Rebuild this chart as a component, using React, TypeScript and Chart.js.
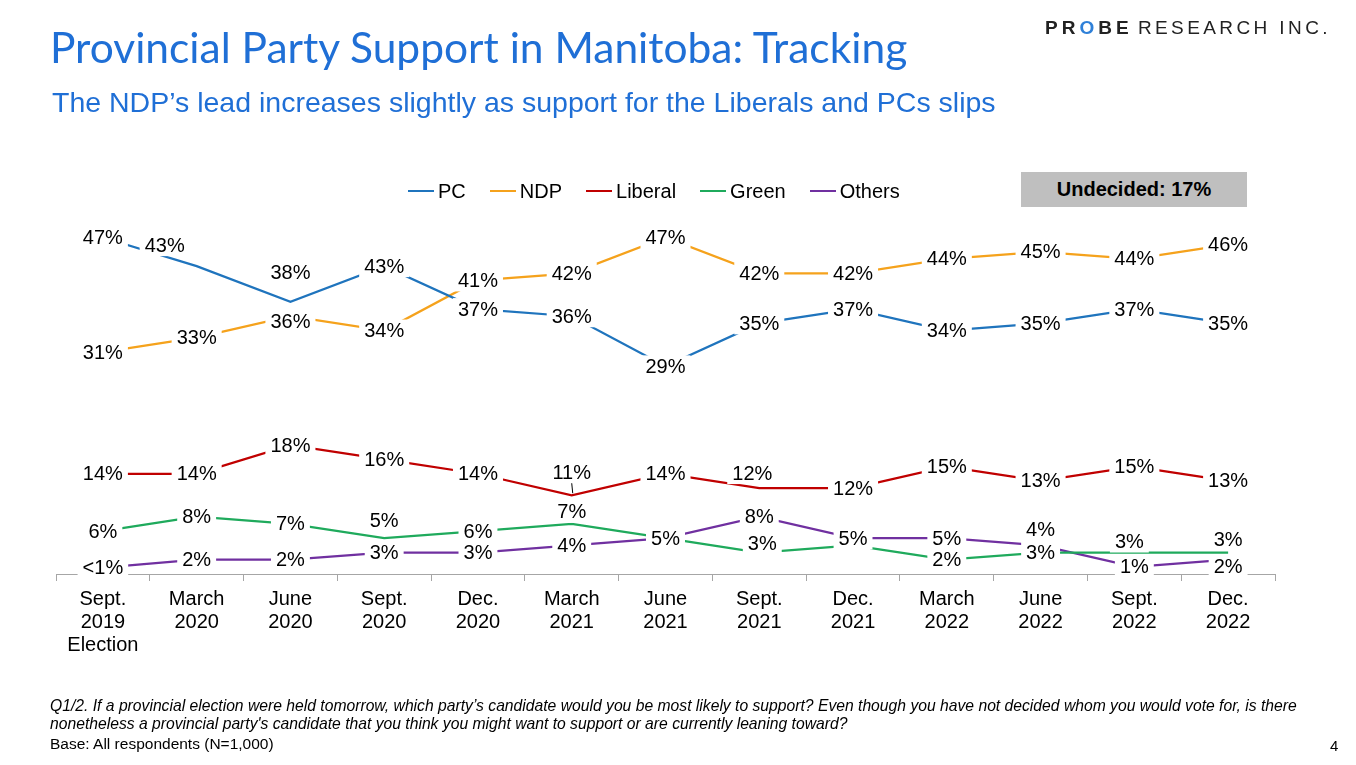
import React, { useEffect, useRef } from "react";
import { Chart, registerables } from "chart.js";

Chart.register(...registerables);

// ---------- data ----------
const categories: string[][] = [
  ["Sept.", "2019", "Election"],
  ["March", "2020"],
  ["June", "2020"],
  ["Sept.", "2020"],
  ["Dec.", "2020"],
  ["March", "2021"],
  ["June", "2021"],
  ["Sept.", "2021"],
  ["Dec.", "2021"],
  ["March", "2022"],
  ["June", "2022"],
  ["Sept.", "2022"],
  ["Dec.", "2022"],
];
const pcValues = [47, 43, 38, 43, 37, 36, 29, 35, 37, 34, 35, 37, 35];
const ndpValues = [31, 33, 36, 34, 41, 42, 47, 42, 42, 44, 45, 44, 46];
const liberalValues = [14, 14, 18, 16, 14, 11, 14, 12, 12, 15, 13, 15, 13];
const greenValues = [6, 8, 7, 5, 6, 7, 5, 3, 4, 2, 3, 3, 3];
const othersValues = [0.9, 2, 2, 3, 3, 4, 5, 8, 5, 5, 4, 1, 2];

const seriesNames = ["PC", "NDP", "Liberal", "Green", "Others"];
const seriesColors = ["#1F74BD", "#F5A21C", "#C00000", "#1FAA5C", "#7030A0"];

// label placement tweaks (annotation style, not data)
const labelNudges: Record<string, [number, number] | "hide"> = {
  "0-1": [-32, -21],
  "0-2": [0, -29],
  "1-2": [0, 5],
  "2-5": [0, -23],
  "2-7": [-7, -15],
  "3-3": [0, -18],
  "3-5": [0, -12],
  "3-7": [3, -9],
  "3-8": "hide",
  "3-11": [-5, -11],
  "3-12": [0, -13],
  "4-10": [0, -16],
  "4-12": [0, 7],
};
const leaderLines = ["2-5"];

const FONT = "'Liberation Sans', Arial, Helvetica, sans-serif";

const pointLabelPlugin = {
  id: "pointLabels",
  afterDatasetsDraw(chart: any) {
    const ctx = chart.ctx as CanvasRenderingContext2D;
    ctx.save();
    ctx.font = `20px ${FONT}`;
    ctx.textAlign = "center";
    ctx.textBaseline = "middle";
    chart.data.datasets.forEach((ds: any, di: number) => {
      const meta = chart.getDatasetMeta(di);
      meta.data.forEach((pt: any, i: number) => {
        const key = `${di}-${i}`;
        const n = labelNudges[key];
        if (n === "hide") return;
        const [dx, dy] = n || [0, 0];
        const x = pt.x + dx;
        const y = pt.y + dy;
        const v = ds.data[i] as number;
        const text = v < 1 ? "<1%" : `${v}%`;
        const w = ctx.measureText(text).width;
        ctx.fillStyle = "#ffffff";
        ctx.fillRect(x - w / 2 - 5, y - 11, w + 10, 22);
        if (leaderLines.includes(key)) {
          ctx.strokeStyle = "#000";
          ctx.lineWidth = 1;
          ctx.beginPath();
          ctx.moveTo(x, y + 11);
          ctx.lineTo(pt.x + 1, pt.y - 2);
          ctx.stroke();
        }
        ctx.fillStyle = "#000000";
        ctx.fillText(text, x, y + 1);
      });
    });
    ctx.restore();
  },
};

function TrackingChart() {
  const ref = useRef<HTMLCanvasElement | null>(null);
  useEffect(() => {
    if (!ref.current) return;
    const all = [pcValues, ndpValues, liberalValues, greenValues, othersValues];
    const chart = new Chart(ref.current, {
      type: "line",
      data: {
        labels: categories,
        datasets: all.map((vals, i) => ({
          label: seriesNames[i],
          data: vals,
          borderColor: seriesColors[i],
          backgroundColor: seriesColors[i],
          borderWidth: 2.25,
          pointRadius: 0,
          tension: 0,
          fill: false,
        })),
      },
      options: {
        responsive: false,
        animation: false,
        devicePixelRatio: 1,
        layout: { padding: { left: 56, right: 81, top: 216, bottom: 101 } },
        plugins: {
          legend: { display: false },
          title: { display: false },
          tooltip: { enabled: false },
        },
        scales: {
          x: {
            offset: true,
            grid: {
              offset: true,
              drawOnChartArea: false,
              drawTicks: true,
              tickLength: 7,
              color: "#A6A6A6",
            },
            border: { display: true, color: "#A6A6A6", width: 1 },
            ticks: {
              color: "#000000",
              font: { family: FONT, size: 20, lineHeight: 1.15 },
              padding: 7,
              maxRotation: 0,
              autoSkip: false,
            },
          },
          y: {
            display: false,
            min: 0,
            max: 50,
          },
        },
      },
      plugins: [pointLabelPlugin],
    });
    return () => chart.destroy();
  }, []);
  return (
    <canvas
      ref={ref}
      width={1356}
      height={765}
      style={{ position: "absolute", left: 0, top: 0, width: 1356, height: 765 }}
    />
  );
}

export default function App() {
  return (
    <div
      style={{
        position: "absolute",
        left: 0,
        top: 0,
        width: 1356,
        height: 765,
        background: "#ffffff",
        overflow: "hidden",
        fontFamily: FONT,
      }}
    >
      <TrackingChart />
      {/* Logo */}
      <div
        style={{
          position: "absolute",
          left: 1045,
          top: 16,
          fontSize: 19,
          lineHeight: "24px",
          color: "#222222",
          whiteSpace: "nowrap",
        }}
      >
        <span style={{ fontWeight: 700, letterSpacing: 4 }}>
          PR<span style={{ color: "#2F80D8" }}>O</span>BE
        </span>{" "}
        <span style={{ letterSpacing: 3.4 }}>RESEARCH INC.</span>
      </div>
      {/* Title */}
      <div
        style={{
          position: "absolute",
          left: 50,
          top: 21,
          fontFamily: "Lato, 'Open Sans', sans-serif",
          fontSize: 42.5,
          lineHeight: 1.2,
          color: "#1F6FD6",
          whiteSpace: "nowrap",
        }}
      >
        Provincial Party Support in Manitoba: Tracking
      </div>
      {/* Subtitle */}
      <div
        style={{
          position: "absolute",
          left: 52,
          top: 88,
          fontSize: 28.5,
          lineHeight: 1,
          color: "#1F6FD6",
          whiteSpace: "nowrap",
        }}
      >
        The NDP’s lead increases slightly as support for the Liberals and PCs slips
      </div>
      {/* Legend */}
      <div
        style={{
          position: "absolute",
          left: 408,
          top: 179,
          display: "flex",
          alignItems: "center",
          gap: 24,
          fontSize: 20,
          lineHeight: "24px",
          color: "#000",
          whiteSpace: "nowrap",
        }}
      >
        {seriesNames.map((n, i) => (
          <div key={n} style={{ display: "flex", alignItems: "center" }}>
            <span
              style={{
                display: "inline-block",
                width: 26,
                height: 2,
                background: seriesColors[i],
                marginRight: 4,
              }}
            />
            <span>{n}</span>
          </div>
        ))}
      </div>
      {/* Undecided box */}
      <div
        style={{
          position: "absolute",
          left: 1021,
          top: 172,
          width: 226,
          height: 35,
          background: "#BFBFBF",
          display: "flex",
          alignItems: "center",
          justifyContent: "center",
          fontWeight: 700,
          fontSize: 20,
          color: "#000",
        }}
      >
        Undecided: 17%
      </div>
      {/* Footnote */}
      <div
        style={{
          position: "absolute",
          left: 50,
          top: 697,
          fontSize: 15.7,
          lineHeight: "18px",
          fontStyle: "italic",
          color: "#000",
          whiteSpace: "nowrap",
        }}
      >
        Q1/2. If a provincial election were held tomorrow, which party’s candidate would you be most likely to support? Even though you have not decided whom you would vote for, is there
        <br />
        nonetheless a provincial party's candidate that you think you might want to support or are currently leaning toward?
      </div>
      <div
        style={{
          position: "absolute",
          left: 50,
          top: 735,
          fontSize: 15.5,
          lineHeight: "18px",
          color: "#000",
        }}
      >
        Base: All respondents (N=1,000)
      </div>
      <div
        style={{
          position: "absolute",
          left: 1330,
          top: 737,
          fontSize: 15,
          lineHeight: "18px",
          color: "#000",
        }}
      >
        4
      </div>
    </div>
  );
}
